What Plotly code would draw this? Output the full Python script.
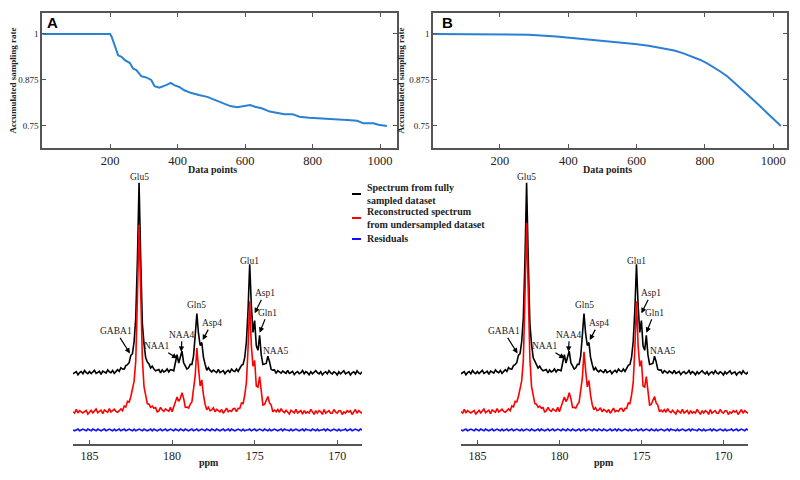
import numpy as np
import plotly.graph_objects as go

# --- top panels: accumulated sampling rate vs data points ---
points_a = [0, 200, 205, 215, 224, 234, 244, 259, 268, 278, 293, 307, 322, 332, 346, 366, 380,
            390, 405, 420, 439, 463, 488, 512, 532, 556, 576, 595, 615, 629, 649, 673, 698, 717,
            741, 761, 790, 815, 844, 873, 902, 932, 951, 980, 995, 1020]
rate_a = [1, 1, 0.992, 0.965, 0.942, 0.938, 0.929, 0.921, 0.906, 0.902, 0.885, 0.882, 0.875,
          0.858, 0.854, 0.861, 0.867, 0.861, 0.856, 0.847, 0.840, 0.834, 0.829, 0.820, 0.813,
          0.804, 0.801, 0.804, 0.807, 0.802, 0.798, 0.789, 0.784, 0.782, 0.782, 0.775, 0.772,
          0.771, 0.769, 0.769, 0.766, 0.764, 0.757, 0.757, 0.753, 0.750]

points_b = [0, 285, 365, 415, 460, 505, 550, 595, 635, 675, 710, 735, 760, 785, 805, 825, 845,
            865, 885, 905, 925, 945, 965, 985, 1005, 1022]
rate_b = [1.0, 0.998, 0.993, 0.989, 0.985, 0.981, 0.978, 0.973, 0.968, 0.962, 0.955, 0.948,
          0.940, 0.930, 0.921, 0.910, 0.898, 0.885, 0.869, 0.852, 0.835, 0.818, 0.801, 0.783,
          0.765, 0.750]

# --- bottom panels: 13C spectra (peaks) ---
peak_names = ["GABA1", "Glu5", "NAA1", "NAA4", "Gln5", "Asp4", "Glu1", "Asp1", "Gln1", "NAA5"]
peak_ppm = [182.4, 182.0, 179.7, 179.4, 178.5, 178.2, 175.3, 175.0, 174.7, 174.2]
peak_width = [0.30, 0.12, 0.09, 0.09, 0.12, 0.09, 0.12, 0.08, 0.09, 0.10]
full_height = [3, 99, 7.5, 10, 31, 12, 55, 18, 15, 7.5]
recon_height_a = [3, 98, 7, 10, 33, 12, 56, 18, 15, 7.5]
recon_height_b = [3, 99, 7, 10, 31, 12, 56, 18, 15, 7.5]

black_ripple = [1,-1,0,2,-1,1,0,-2,1,0, -1,2,0,-1,1,-2,0,1,-1,0, 2,-1,1,0,-2,1,-1,0,2,0,
                -1,1,-2,0,1,-1,2,0,-1,1, 0,-2,1,0,-1,2,-1,0,1,-1, 0,1,-2,1,0,-1,2,0,-1,1,
                -1,0,2,-1,0,1,-2,0,1,-1, 2,0,-1,1,0,-2,1,-1,0,2, -1,1,0,-2,1,0,-1,2,-1,0,
                1,-1,0,2,-2,1,0,-1,1,0, -2,1,0,-1,2,0,-1,1,-1,0, 2,-1,1,0,-2,0,1,-1,2,0,
                -1,1,-2,1,0,-1,0,2,-1,1, 0,-1,2,-2,1,0,-1,1,0,-2, 2,-1,0,1,-1,0,2,-1,1,0,
                -2,1,-1,0,2,-1,0,1,-2,1, 0,-1,2,0,-1,1,-1,0,2,-1, 1,0,-2,1,0,-1]
red_ripple = [-1,0,1,-1,2,0,-2,1,0,1, -1,0,-2,1,1,-1,0,2,-1,-1, 1,0,-1,2,-2,0,1,-1,1,-2,
              0,2,-1,0,-1,1,-2,1,0,-1, 2,-1,0,1,-2,0,1,-1,0,2, -1,1,-1,0,-2,2,0,-1,1,0,
              -2,1,0,1,-1,0,2,-2,1,-1, 0,1,-1,2,-1,0,-2,1,1,-1, 0,-1,2,0,-2,1,-1,0,1,-1,
              2,0,-1,1,-2,0,1,0,-1,2, -1,-2,1,0,1,-1,0,-1,2,-2, 1,0,-1,1,0,-2,2,-1,0,1,
              -1,0,2,-1,-2,1,0,1,-1,0, -2,1,-1,2,0,-1,1,-2,0,1, 0,-1,2,-1,1,-2,0,-1,-2,-1,
              1,0,-1,2,-1,0,1,-2,1,0, -1,2,0,-1,1,-1,-2,1,0,-1, 0,1,-1,2,-1,0]
blue_ripple = [0,1,-1,0,1,0,-1,1,0,-1, 1,0,0,-1,1,-1,0,1,0,-1, 0,1,-1,1,0,0,-1,1,-1,0,
               1,-1,0,0,1,-1,1,0,-1,0, 1,0,-1,1,-1,0,0,1,-1,1, 0,-1,0,1,0,-1,1,-1,0,1,
               -1,0,1,0,-1,1,0,-1,1,0, 0,-1,1,-1,0,1,0,-1,0,1, -1,1,0,-1,1,0,-1,0,1,-1,
               0,1,-1,0,1,-1,0,1,0,-1, 1,0,-1,1,0,-1,0,1,-1,0, 1,-1,0,1,-1,0,1,0,-1,1,
               0,-1,1,0,-1,0,1,-1,1,0, -1,0,1,-1,0,1,0,-1,1,-1, 0,1,0,-1,1,0,-1,1,0,-1,
               1,-1,0,1,0,-1,1,0,-1,0, 1,-1,0,1,-1,0,1,-1,0,1, 0,-1,1,0,-1,0]

# label placement: (name, ppm, height, arrow dx, arrow dy) ; dx=None -> plain label
peak_labels = [
    ("Glu5", 182.0, 140.5, None, None),
    ("Glu1", 175.3, 96.3, None, None),
    ("Gln5", 178.5, 73.2, None, None),
    ("NAA5", 173.7, 49.0, None, None),
    ("GABA1", 182.55, 47.7, -14, -22),
    ("NAA1", 179.68, 45.1, -20, -12),
    ("NAA4", 179.45, 48.6, 1, -17),
    ("Asp4", 178.15, 54.7, 9, -17),
    ("Asp1", 175.0, 68.8, 10, -20),
    ("Gln1", 174.7, 58.6, 8, -20),
]

ppm = np.round(np.arange(168.5, 186.05, 0.1), 1)


def spectrum(heights):
    y = np.zeros_like(ppm)
    for c, w, h in zip(peak_ppm, peak_width, heights):
        y += h / (1 + ((ppm - c) / w) ** 2)
    return y


full = spectrum(full_height)
recon_a = spectrum(recon_height_a)
recon_b = spectrum(recon_height_b)
ripple_k = np.array(black_ripple) * 0.55
ripple_r = np.array(red_ripple) * 0.65
ripple_b = np.array(blue_ripple) * 0.45

# page body has an 8px margin: lay out in window pixels, convert to paper coords
W, H, OFF = 792, 472, 8


def fx(px):
    return (px - OFF) / W


def fy(py):
    return 1 - (py - OFF) / H


serif = "Liberation Serif"
fig = go.Figure()

fig.add_trace(go.Scatter(x=points_a, y=rate_a, mode="lines", line=dict(color="#2a80d2", width=2),
                         xaxis="x", yaxis="y", showlegend=False))
fig.add_trace(go.Scatter(x=points_b, y=rate_b, mode="lines", line=dict(color="#2a80d2", width=2),
                         xaxis="x2", yaxis="y2", showlegend=False))

for xa, ya, rec in [("x3", "y3", recon_a), ("x4", "y4", recon_b)]:
    fig.add_trace(go.Scatter(x=ppm, y=full + ripple_k + 37.4, mode="lines",
                             line=dict(color="black", width=1.6), xaxis=xa, yaxis=ya, showlegend=False))
    fig.add_trace(go.Scatter(x=ppm, y=rec + ripple_r + 16.8, mode="lines",
                             line=dict(color="#ff0000", width=1.6), xaxis=xa, yaxis=ya, showlegend=False))
    fig.add_trace(go.Scatter(x=ppm, y=ripple_b + 7.4, mode="lines",
                             line=dict(color="#1010ff", width=1.6), xaxis=xa, yaxis=ya, showlegend=False))

top_x = dict(ticks="inside", ticklen=4, mirror="ticks", showline=True, linecolor="#555", linewidth=1.5,
             tickcolor="#555", tickvals=[200, 400, 600, 800, 1000], showgrid=False, zeroline=False,
             tickfont=dict(family=serif, size=12.5, color="#222"))
top_y = dict(ticks="inside", ticklen=4, mirror="ticks", showline=True, linecolor="#555", linewidth=1.5,
             tickcolor="#555", tickvals=[0.75, 0.875, 1], ticktext=["0.75", "0.875", "1"], showgrid=False,
             zeroline=False, range=[0.69, 1.057], tickfont=dict(family=serif, size=9, color="#222"),
             title=dict(text="<b>Accumulated sampling rate</b>", font=dict(family=serif, size=9, color="#222"),
                        standoff=3))
bot_x = dict(ticks="inside", ticklen=4, showline=True, linecolor="#555", linewidth=1.5, tickcolor="#555",
             tickvals=[185, 180, 175, 170], range=[186.0, 168.5], showgrid=False, zeroline=False,
             tickfont=dict(family=serif, size=12, color="#222"))
bot_y = dict(visible=False, range=[0, 143.2], domain=[fy(444), fy(172)])

fig.update_layout(
    width=W, height=H, margin=dict(l=0, r=0, t=0, b=0),
    paper_bgcolor="white", plot_bgcolor="white",
    xaxis=dict(top_x, domain=[fx(42), fx(397)], range=[-1.5, 1050], anchor="y"),
    yaxis=dict(top_y, domain=[fy(148), fy(13)], anchor="x"),
    xaxis2=dict(top_x, domain=[fx(433), fx(787)], range=[4, 1040], anchor="y2"),
    yaxis2=dict(top_y, domain=[fy(148), fy(13)], anchor="x2"),
    xaxis3=dict(bot_x, domain=[fx(73), fx(362)], anchor="y3"),
    yaxis3=dict(bot_y, anchor="x3"),
    xaxis4=dict(bot_x, domain=[fx(461), fx(748)], anchor="y4"),
    yaxis4=dict(bot_y, anchor="x4"),
)

# panel letters
for letter, px in [("A", 52), ("B", 447)]:
    fig.add_annotation(x=fx(px), y=fy(22), xref="paper", yref="paper", text="<b>" + letter + "</b>",
                       showarrow=False, xanchor="center", yanchor="middle",
                       font=dict(family="Liberation Sans", size=15, color="black"))

# axis titles under the x axes
for text, px, py in [("Data points", 213, 169), ("Data points", 607, 169), ("ppm", 209, 462), ("ppm", 604, 462)]:
    fig.add_annotation(x=fx(px), y=fy(py), xref="paper", yref="paper", text="<b>" + text + "</b>",
                       showarrow=False, xanchor="center", yanchor="middle",
                       font=dict(family=serif, size=10, color="#222"))

# peak labels
for xa, ya in [("x3", "y3"), ("x4", "y4")]:
    for name, px, py, dx, dy in peak_labels:
        if dx is None:
            fig.add_annotation(x=px, y=py, xref=xa, yref=ya, text=name, showarrow=False,
                               font=dict(family=serif, size=9.5, color="#222"))
        else:
            fig.add_annotation(x=px, y=py, xref=xa, yref=ya, text=name, showarrow=True, ax=dx, ay=dy,
                               arrowhead=2, arrowsize=0.9, arrowwidth=1.2, arrowcolor="black",
                               font=dict(family=serif, size=9.5, color="#222"))

# legend drawn by hand (short line samples)
legend_items = [("Spectrum from fully<br>sampled dataset", "black", 194),
                ("Reconstructed spectrum<br>from undersampled dataset", "#ff0000", 218),
                ("Residuals", "#1010ff", 239)]
for text, col, ypx in legend_items:
    fig.add_shape(type="line", xref="paper", yref="paper", x0=fx(352), x1=fx(361), y0=fy(ypx), y1=fy(ypx),
                  line=dict(color=col, width=2))
    fig.add_annotation(x=fx(365), y=fy(ypx), xref="paper", yref="paper", text="<b>" + text + "</b>",
                       showarrow=False, xanchor="left", yanchor="middle", align="left",
                       font=dict(family=serif, size=10, color="#222"))

fig.write_html("out.html")
